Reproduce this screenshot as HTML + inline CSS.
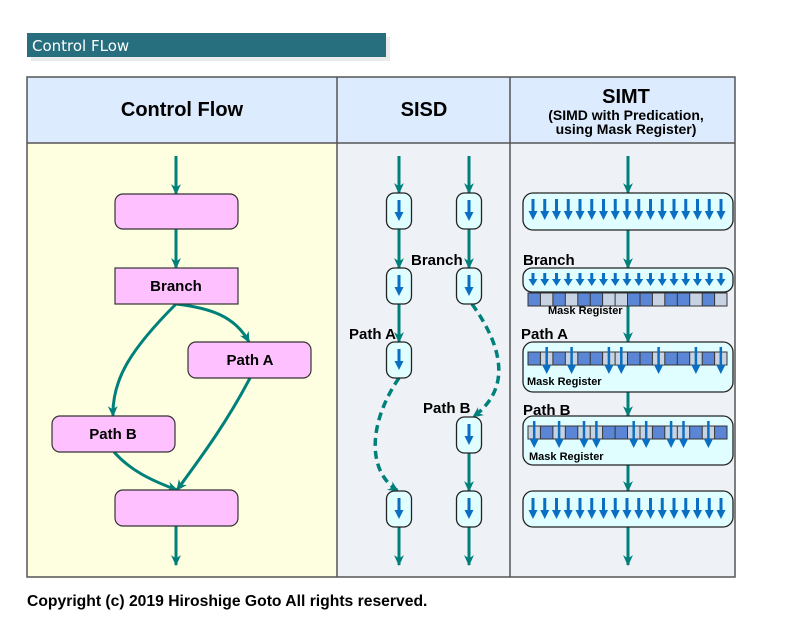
<!DOCTYPE html>
<html><head><meta charset="utf-8"><style>
html,body{margin:0;padding:0;background:#fff;}
svg{display:block;font-family:"Liberation Sans",Arial,sans-serif;}
</style></head><body>
<svg width="800" height="637" viewBox="0 0 800 637" xmlns="http://www.w3.org/2000/svg">
<defs>
<g id="ba"><line x1="0" y1="0" x2="0" y2="14" stroke="#0a6fc2" stroke-width="3"/><polygon points="-4.5,12 4.5,12 0,21" fill="#0a6fc2"/></g>
<g id="sa"><line x1="0" y1="0" x2="0" y2="7" stroke="#0a6fc2" stroke-width="3"/><polygon points="-4.5,6 4.5,6 0,13" fill="#0a6fc2"/></g>
<g id="la"><line x1="0" y1="0" x2="0" y2="20" stroke="#0a6fc2" stroke-width="2.5"/><polygon points="-4.5,18 4.5,18 0,27" fill="#0a6fc2"/></g>
<marker id="th" markerWidth="11" markerHeight="11" refX="9" refY="5" orient="auto" markerUnits="userSpaceOnUse" viewBox="0 0 10 10"><polygon points="0,0.5 10,5 0,9.5 3,5" fill="#00807a"/></marker>
<g id="sel">
<rect x="528" width="12.44" height="13"/><rect x="552.9" width="12.44" height="13"/><rect x="577.8" width="12.44" height="13"/><rect x="590.2" width="12.44" height="13"/><rect x="627.5" width="12.44" height="13"/><rect x="640" width="12.44" height="13"/><rect x="664.8" width="12.44" height="13"/><rect x="677.3" width="12.44" height="13"/><rect x="702.2" width="12.44" height="13"/>
</g>
<g id="grid" stroke="#333" stroke-width="1">
<rect x="528" y="0" width="199" height="13" fill="none"/>
<line x1="540.4" y1="0" x2="540.4" y2="13"/><line x1="552.9" y1="0" x2="552.9" y2="13"/><line x1="565.3" y1="0" x2="565.3" y2="13"/><line x1="577.8" y1="0" x2="577.8" y2="13"/><line x1="590.2" y1="0" x2="590.2" y2="13"/><line x1="602.6" y1="0" x2="602.6" y2="13"/><line x1="615.1" y1="0" x2="615.1" y2="13"/><line x1="627.5" y1="0" x2="627.5" y2="13"/><line x1="640" y1="0" x2="640" y2="13"/><line x1="652.4" y1="0" x2="652.4" y2="13"/><line x1="664.8" y1="0" x2="664.8" y2="13"/><line x1="677.3" y1="0" x2="677.3" y2="13"/><line x1="689.7" y1="0" x2="689.7" y2="13"/><line x1="702.2" y1="0" x2="702.2" y2="13"/><line x1="714.6" y1="0" x2="714.6" y2="13"/>
</g>
<g id="row17"><use href="#ba" x="533"/><use href="#ba" x="544.75"/><use href="#ba" x="556.5"/><use href="#ba" x="568.25"/><use href="#ba" x="580"/><use href="#ba" x="591.75"/><use href="#ba" x="603.5"/><use href="#ba" x="615.25"/><use href="#ba" x="627"/><use href="#ba" x="638.75"/><use href="#ba" x="650.5"/><use href="#ba" x="662.25"/><use href="#ba" x="674"/><use href="#ba" x="685.75"/><use href="#ba" x="697.5"/><use href="#ba" x="709.25"/><use href="#ba" x="721"/></g>
</defs>

<!-- title -->
<rect x="31" y="37" width="359" height="24" fill="#ddd" opacity="0.6"/>
<rect x="27" y="33" width="359" height="24" fill="#276f7e"/>
<text x="32" y="51" font-size="15" fill="#fff" font-family="DejaVu Sans,Liberation Sans,sans-serif">Control FLow</text>

<!-- table -->
<rect x="27" y="77" width="708" height="66" fill="#dcebfd"/>
<rect x="27" y="143" width="310" height="434" fill="#fefee0"/>
<rect x="337" y="143" width="398" height="434" fill="#eef2f7"/>
<rect x="27" y="77" width="708" height="500" fill="none" stroke="#555" stroke-width="1.5"/>
<line x1="27" y1="143" x2="735" y2="143" stroke="#555" stroke-width="1.5"/>
<line x1="337" y1="77" x2="337" y2="577" stroke="#555" stroke-width="1.5"/>
<line x1="510" y1="77" x2="510" y2="577" stroke="#555" stroke-width="1.5"/>
<g font-weight="bold" text-anchor="middle" fill="#000">
<text x="182" y="116" font-size="20">Control Flow</text>
<text x="424" y="116" font-size="20">SISD</text>
<text x="626" y="103" font-size="20">SIMT</text>
<text x="626" y="120" font-size="14">(SIMD with Predication,</text>
<text x="626" y="134" font-size="14">using Mask Register)</text>
</g>

<!-- control flow -->
<g stroke="#00807a" stroke-width="3" fill="none" marker-end="url(#th)">
<line x1="176" y1="156" x2="176" y2="194"/>
<line x1="176" y1="229" x2="176" y2="268"/>
<line x1="176" y1="526" x2="176" y2="565"/>
<path d="M176,304 C210,308 235,316 249,342"/>
<path d="M176,304 C130,350 112,380 113,416"/>
<path d="M250,378 C228,420 205,452 177,490"/>
<path d="M114,452 C130,470 150,480 177,490"/>
</g>
<g stroke="#333" stroke-width="1.2" fill="#ffc0ff">
<rect x="115" y="194" width="123" height="35" rx="8"/>
<rect x="115" y="268" width="123" height="36"/>
<rect x="188" y="342" width="123" height="36" rx="8"/>
<rect x="52" y="416" width="123" height="36" rx="8"/>
<rect x="115" y="490" width="123" height="36" rx="8"/>
</g>
<g font-weight="bold" font-size="15" text-anchor="middle">
<text x="176" y="291">Branch</text>
<text x="250" y="365">Path A</text>
<text x="113" y="439">Path B</text>
</g>

<!-- SISD -->
<g stroke="#00807a" stroke-width="3" fill="none" marker-end="url(#th)">
<line x1="399" y1="156" x2="399" y2="193"/><line x1="469" y1="156" x2="469" y2="193"/>
<line x1="399" y1="229" x2="399" y2="268"/><line x1="469" y1="229" x2="469" y2="268"/>
<line x1="399" y1="304" x2="399" y2="342"/>
<line x1="469" y1="452" x2="469" y2="491"/>
<line x1="399" y1="527" x2="399" y2="565"/><line x1="469" y1="527" x2="469" y2="565"/>
<path d="M399,378 C370,420 365,470 398,491" stroke-width="3.5" stroke-dasharray="8,5"/>
<path d="M472,304 C505,350 510,390 473,417" stroke-width="3.5" stroke-dasharray="8,5"/>
</g>
<g stroke="#222" stroke-width="1.3" fill="#e0feff">
<rect x="386.5" y="193" width="25" height="36" rx="8"/><rect x="456.5" y="193" width="25" height="36" rx="8"/>
<rect x="386.5" y="268" width="25" height="36" rx="8"/><rect x="456.5" y="268" width="25" height="36" rx="8"/>
<rect x="386.5" y="342" width="25" height="36" rx="8"/>
<rect x="456.5" y="417" width="25" height="36" rx="8"/>
<rect x="386.5" y="491" width="25" height="36" rx="8"/><rect x="456.5" y="491" width="25" height="36" rx="8"/>
</g>
<use href="#ba" x="399" y="200"/><use href="#ba" x="469" y="200"/>
<use href="#ba" x="399" y="275"/><use href="#ba" x="469" y="275"/>
<use href="#ba" x="399" y="349"/><use href="#ba" x="469" y="424"/>
<use href="#ba" x="399" y="498"/><use href="#ba" x="469" y="498"/>
<g font-weight="bold" font-size="15">
<text x="411" y="265">Branch</text>
<text x="349" y="339">Path A</text>
<text x="423" y="413">Path B</text>
</g>

<!-- SIMT -->
<g stroke="#00807a" stroke-width="3" fill="none" marker-end="url(#th)">
<line x1="628" y1="156" x2="628" y2="193"/>
<line x1="628" y1="229" x2="628" y2="268"/>
<line x1="628" y1="306" x2="628" y2="342"/>
<line x1="628" y1="392" x2="628" y2="416"/>
<line x1="628" y1="465" x2="628" y2="491"/>
<line x1="628" y1="527" x2="628" y2="565"/>
</g>
<g stroke="#222" stroke-width="1.3" fill="#e0feff">
<rect x="523" y="193" width="210" height="37" rx="10"/>
<rect x="523" y="268" width="210" height="24" rx="9"/>
<rect x="523" y="342" width="210" height="50" rx="10"/>
<rect x="523" y="416" width="210" height="49" rx="10"/>
<rect x="523" y="491" width="210" height="36" rx="10"/>
</g>
<use href="#row17" y="199"/>
<use href="#row17" y="498"/>
<g transform="translate(0,273)">
<use href="#sa" x="533"/><use href="#sa" x="544.75"/><use href="#sa" x="556.5"/><use href="#sa" x="568.25"/><use href="#sa" x="580"/><use href="#sa" x="591.75"/><use href="#sa" x="603.5"/><use href="#sa" x="615.25"/><use href="#sa" x="627"/><use href="#sa" x="638.75"/><use href="#sa" x="650.5"/><use href="#sa" x="662.25"/><use href="#sa" x="674"/><use href="#sa" x="685.75"/><use href="#sa" x="697.5"/><use href="#sa" x="709.25"/><use href="#sa" x="721"/>
</g>
<g transform="translate(0,293)"><rect x="528" width="199" height="13" fill="#c7d3e3"/><use href="#sel" fill="#5b86d6"/><use href="#grid"/></g>
<g transform="translate(0,352)"><rect x="528" width="199" height="12" fill="#c7d3e3"/><use href="#sel" fill="#5b86d6"/><use href="#grid"/></g>
<g transform="translate(0,347)">
<use href="#la" x="546.7"/><use href="#la" x="571.6"/><use href="#la" x="608.9"/><use href="#la" x="621.3"/><use href="#la" x="658.6"/><use href="#la" x="695.9"/><use href="#la" x="720.8"/>
</g>
<g transform="translate(0,426)"><rect x="528" width="199" height="13" fill="#5b86d6"/><use href="#sel" fill="#c7d3e3"/><use href="#grid"/></g>
<g transform="translate(0,421)">
<use href="#la" x="534.2"/><use href="#la" x="559.1"/><use href="#la" x="584"/><use href="#la" x="596.4"/><use href="#la" x="633.7"/><use href="#la" x="646.2"/><use href="#la" x="671.1"/><use href="#la" x="683.5"/><use href="#la" x="708.4"/>
</g>
<g font-weight="bold" font-size="15">
<text x="523" y="265">Branch</text>
<text x="521" y="339">Path A</text>
<text x="523" y="415">Path B</text>
</g>
<g font-weight="bold" font-size="11">
<text x="548" y="314">Mask Register</text>
<text x="527" y="385">Mask Register</text>
<text x="529" y="460">Mask Register</text>
</g>

<text x="27" y="606" font-weight="bold" font-size="15.7">Copyright (c) 2019 Hiroshige Goto All rights reserved.</text>
</svg>
</body></html>
